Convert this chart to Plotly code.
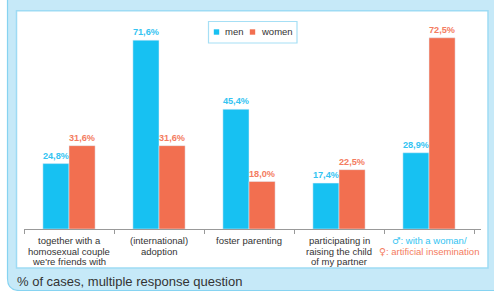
import plotly.graph_objects as go

categories = ["together with a homosexual couple we're friends with",
              "(international) adoption",
              "foster parenting",
              "participating in raising the child of my partner",
              "with a woman / artificial insemination"]
men = [24.8, 71.6, 45.4, 17.4, 28.9]
women = [31.6, 31.6, 18.0, 22.5, 72.5]
SYM = "<span style='font-family:DejaVu Sans'>{}</span>"
tick_lines = [
    ["together with a", "homosexual couple", "we're friends with"],
    ["(international)", "adoption"],
    ["foster parenting"],
    ["participating in", "raising the child", "of my partner"],
    [SYM.format("♂") + ": with a woman/", SYM.format("♀") + ": artificial insemination"],
]
series_names = ["men", "women"]
footnote = "% of cases, multiple response question"

BLUE = "#17c1f2"
RED = "#f26f50"
BLUE_TXT = "#34c4f2"
RED_TXT = "#f47c60"
FONT = "Liberation Sans, Arial"

W, H = 494, 291
L, R, T, B = 24, 13, 18, 62
PW, PH = W - L - R, H - T - B

def px_x(p):
    return (p - L) / PW

def px_y(p):
    return (H - B - p) / PH

def fmt(v):
    return f"{v:.1f}".replace(".", ",") + "%"

fig = go.Figure()
fig.add_trace(go.Bar(x=categories, y=men, name="men", marker_color=BLUE,
                     text=[fmt(v) for v in men], textposition="outside",
                     textfont=dict(color=BLUE_TXT, size=10, family=FONT, weight="bold"),
                     showlegend=False, cliponaxis=False, hoverinfo="skip"))
fig.add_trace(go.Bar(x=categories, y=women, name="women", marker_color=RED,
                     text=[fmt(v) for v in women], textposition="outside",
                     textfont=dict(color=RED_TXT, size=10, family=FONT, weight="bold"),
                     showlegend=False, cliponaxis=False, hoverinfo="skip"))

shapes = []
# outer light-blue box with rounded bottom-left corner
x0, x1 = px_x(7.5), px_x(500)
y0, y1 = px_y(290.5), px_y(-5)
rx, ry = 12 / PW, 12 / PH
shapes.append(dict(type="path", xref="paper", yref="paper", layer="below",
                   path=f"M {x1} {y1} L {x0} {y1} L {x0} {y0 + ry} Q {x0} {y0} {x0 + rx} {y0} L {x1} {y0} Z",
                   fillcolor="#c6e9f8", line=dict(color="#86d3f1", width=1.2)))
# white inner panel
shapes.append(dict(type="rect", xref="paper", yref="paper", layer="below",
                   x0=px_x(16.5), x1=px_x(488), y0=px_y(268), y1=px_y(10.8),
                   fillcolor="white", line=dict(color="#9edbf4", width=1.5)))

annotations = []
# legend box (drawn by hand to match the compact layout)
shapes.append(dict(type="rect", xref="paper", yref="paper",
                   x0=px_x(208.5), x1=px_x(297), y0=px_y(43), y1=px_y(21.5),
                   fillcolor="white", line=dict(color="#a6dff5", width=1.2)))
for name, col, sx in zip(series_names, [BLUE, RED], [216.5, 252.5]):
    shapes.append(dict(type="rect", xref="paper", yref="paper",
                       x0=px_x(sx - 2.7), x1=px_x(sx + 2.7), y0=px_y(34.7), y1=px_y(29.3),
                       fillcolor=col, line=dict(width=0)))
    annotations.append(dict(x=px_x(sx + 6.5), y=px_y(31.5), xref="paper", yref="paper",
                            text=name, showarrow=False, xanchor="left", yanchor="middle",
                            font=dict(size=9.5, color="#333333", family=FONT)))

for i, lines in enumerate(tick_lines):
    for j, line in enumerate(lines):
        color = "#333333"
        if i == 4:
            color = BLUE_TXT if j == 0 else RED_TXT
        annotations.append(dict(x=categories[i], xref="x", yref="paper",
                                y=px_y(240.5 + j * 10.5), text=line, showarrow=False,
                                xanchor="center", yanchor="middle",
                                font=dict(size=9.5, color=color, family=FONT)))
annotations.append(dict(x=px_x(15), y=px_y(281.5), xref="paper", yref="paper",
                        text=footnote, showarrow=False, xanchor="left", yanchor="middle",
                        font=dict(size=13, color="#333333", family=FONT)))

fig.update_layout(
    width=W, height=H,
    margin=dict(l=L, r=R, t=T, b=B, pad=0),
    paper_bgcolor="white", plot_bgcolor="rgba(0,0,0,0)",
    barmode="group", bargap=0.42, bargroupgap=0,
    shapes=shapes, annotations=annotations,
    showlegend=False, hovermode=False,
    xaxis=dict(showticklabels=False, showgrid=False, zeroline=False,
               showline=True, linecolor="#999999", linewidth=1,
               ticks="outside", ticklen=4, tickcolor="#999999", tickson="boundaries"),
    yaxis=dict(range=[0, 80], visible=False, showgrid=False, zeroline=False),
    font=dict(family=FONT),
)

fig.write_html("out.html", config={"displayModeBar": False},
               post_script="document.body.style.margin='0px';document.body.style.overflow='hidden';")
